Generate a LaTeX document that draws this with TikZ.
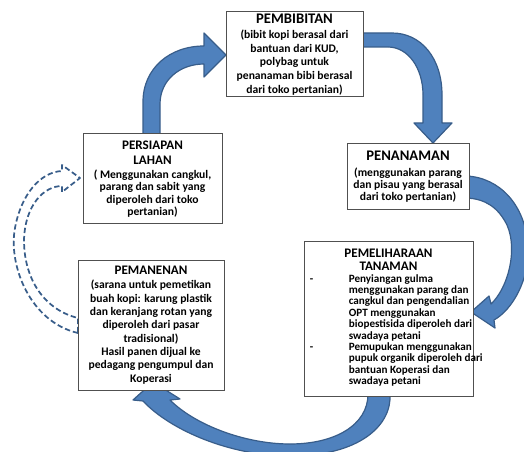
\documentclass[tikz,border=0pt]{standalone}
\usepackage{fontspec}
\setmainfont{Carlito}
\definecolor{arrowblue}{RGB}{79,129,189}
\definecolor{arrowline}{RGB}{56,93,138}
\definecolor{boxline}{RGB}{80,80,80}
\tikzset{every picture/.style={line width=0.75pt}}
\tikzset{
  stagebox/.style={draw=boxline, fill=white, inner sep=0pt, align=center},
  blockarrow/.style={fill=arrowblue, draw=arrowline, line width=0.9pt, line join=round},
  dasharrow/.style={draw=arrowline, dash pattern=on 4pt off 2.2pt, line width=1.3pt, line join=round}
}
\newcommand{\headfont}{\fontsize{9.8}{10.3}\selectfont}
\newcommand{\bigheadfont}{\fontsize{11}{11}\selectfont}

\begin{document}
\begin{tikzpicture}[x=0.75pt,y=0.75pt,yscale=-1,xscale=1]
	\useasboundingbox (0,0) rectangle (524,452);

	%Curved Arrow: persiapan to pembibitan
	\draw [blockarrow] (143,136) -- (143,102) .. controls (143,68) and (170,46) .. (204,46) -- (204,33) -- (226,55) -- (204,77) -- (204,64) .. controls (180,64) and (160,80) .. (160,104) -- (160,136) -- cycle ;
	%Curved Arrow: pembibitan to penanaman
	\draw [blockarrow] (361,33) -- (392,33) .. controls (421,33) and (442,58) .. (442,95) -- (442,123) -- (452,123) -- (433,143) -- (414,123) -- (423,123) -- (423,95) .. controls (423,68) and (408,47) .. (388,47) -- (361,47) -- cycle ;
	%Curved Arrow: penanaman to pemeliharaan
	\draw [blockarrow] (467,176) .. controls (500,178) and (525,205) .. (528,245) .. controls (530,280) and (512,310) .. (494,320) -- (495,328) -- (471,312) -- (489,296) -- (491,304) .. controls (508,288) and (518,250) .. (507,225) .. controls (498,207) and (485,199) .. (467,198) -- cycle ;
	%Curved Arrow: pemeliharaan to pemanenan
	\draw [blockarrow] (390,394) .. controls (392,425) and (360,456) .. (290,456) .. controls (230,456) and (170,430) .. (143,401) -- (133,400) -- (153,382) -- (180,399) -- (170,400) .. controls (195,425) and (245,444) .. (290,444) .. controls (335,444) and (368,425) .. (368,394) -- cycle ;
	%Dashed Curved Arrow: pemanenan to persiapan lahan
	\draw [dasharrow] (78,333) .. controls (30,322) and (8,265) .. (15,228) .. controls (21,195) and (40,172) .. (62,171) -- (62,165) -- (80,178) -- (62,192) -- (62,186) .. controls (44,186) and (25,205) .. (24,240) .. controls (24,280) and (45,310) .. (78,318) -- cycle ;

	% Text Node
	\draw (294.5,54.5) node (pembibitan) [stagebox, minimum width=102.75pt, minimum height=63.75pt, font=\bfseries\fontsize{8.7}{10.3}\selectfont] {{\bigheadfont PEMBIBITAN}\\[1pt](bibit kopi berasal dari\\bantuan dari KUD,\\polybag untuk\\penanaman bibi berasal\\dari toko pertanian)};
	% Text Node
	\draw (408,177) node (penanaman) [stagebox, minimum width=91.5pt, minimum height=49.5pt, font=\bfseries\fontsize{8.7}{9}\selectfont] {{\bigheadfont PENANAMAN}\\[3pt](menggunakan parang\\dan pisau yang berasal\\dari toko pertanian)};
	% Text Node
	\draw (388.5,318.5) node (pemeliharaan) [stagebox, minimum width=126.75pt, minimum height=116.25pt, font=\bfseries\fontsize{8.35}{8.55}\selectfont] {{\headfont PEMELIHARAAN}\\[1pt]{\headfont TANAMAN}\\[2pt]
		\makebox[118pt][l]{\begin{tabular}{@{}p{29.25pt}@{}l@{}}
		- & Penyiangan gulma\\
		  & menggunakan parang dan\\
		  & cangkul dan pengendalian\\
		  & OPT menggunakan\\
		  & biopestisida diperoleh dari\\
		  & swadaya petani\\
		- & Pemupukan menggunakan\\
		  & pupuk organik diperoleh dari\\
		  & bantuan  Koperasi dan\\
		  & swadaya petani
		\end{tabular}}};
	% Text Node
	\draw (151,325) node (pemanenan) [stagebox, minimum width=109.5pt, minimum height=97.5pt, font=\bfseries\fontsize{8.7}{10}\selectfont] {{\headfont PEMANENAN}\\[1pt](sarana untuk pemetikan\\buah kopi: karung plastik\\dan keranjang rotan yang\\diperoleh dari pasar\\tradisional)\\Hasil panen dijual ke\\pedagang pengumpul dan\\Koperasi};
	% Text Node
	\draw (152.5,179) node (persiapan) [stagebox, minimum width=104.25pt, minimum height=67.5pt, font=\bfseries\fontsize{8.7}{9.4}\selectfont] {{\headfont PERSIAPAN}\\[2pt]{\headfont LAHAN}\\[1pt]( Menggunakan cangkul,\\parang dan sabit yang\\diperoleh dari toko\\pertanian)};

\end{tikzpicture}
\end{document}
